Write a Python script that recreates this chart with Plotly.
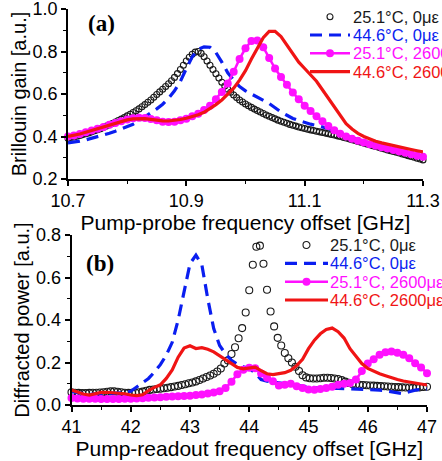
import numpy as np
import plotly.graph_objects as go

W, H = 442, 461

# ---------------- panel (a): Brillouin gain spectra ----------------
a_x_fine = np.round(10.7 + 0.005 * np.arange(121), 4)   # dense sampling (black circles)
a_x = np.round(10.7 + 0.01 * np.arange(61), 3)

a_black = [0.392, 0.395, 0.398, 0.401, 0.405, 0.409, 0.413, 0.417, 0.422, 0.427,
           0.432, 0.437, 0.443, 0.449, 0.455, 0.461, 0.468, 0.475, 0.482, 0.489,
           0.497, 0.505, 0.513, 0.521, 0.530, 0.540, 0.550, 0.561, 0.572, 0.585,
           0.598, 0.610, 0.622, 0.635, 0.648, 0.662, 0.678, 0.696, 0.715, 0.735,
           0.755, 0.773, 0.787, 0.797, 0.800, 0.791, 0.775, 0.755, 0.735, 0.715,
           0.695, 0.675, 0.655, 0.638, 0.622, 0.608, 0.595, 0.583, 0.572, 0.562,
           0.553, 0.545, 0.537, 0.529, 0.522, 0.515, 0.508, 0.501, 0.495, 0.489,
           0.483, 0.477, 0.472, 0.467, 0.462, 0.457, 0.453, 0.449, 0.445, 0.441,
           0.438, 0.434, 0.431, 0.428, 0.425, 0.422, 0.419, 0.416, 0.413, 0.410,
           0.407, 0.403, 0.400, 0.396, 0.393, 0.389, 0.385, 0.381, 0.377, 0.373,
           0.369, 0.365, 0.361, 0.357, 0.353, 0.349, 0.345, 0.341, 0.337, 0.333,
           0.330, 0.326, 0.322, 0.318, 0.314, 0.310, 0.306, 0.302, 0.298, 0.294,
           0.290]

a_blue = [0.370, 0.373, 0.378, 0.384, 0.391, 0.398, 0.406, 0.415, 0.425, 0.435,
          0.446, 0.458, 0.474, 0.492, 0.512, 0.530, 0.552, 0.580, 0.615, 0.660,
          0.720, 0.775, 0.810, 0.822, 0.820, 0.795, 0.750, 0.700, 0.665, 0.635,
          0.615, 0.600, 0.585, 0.570, 0.555, 0.535, 0.515, 0.500, 0.485, 0.475,
          0.465, 0.458, 0.452, 0.446, 0.438, 0.428, 0.418, 0.405, 0.393, 0.382,
          0.372, 0.363, 0.355, 0.347, 0.340, 0.332, 0.325, 0.318, 0.310, 0.303,
          0.296]

a_magenta = [0.400, 0.405, 0.412, 0.420, 0.428, 0.436, 0.445, 0.455, 0.463, 0.472,
             0.480, 0.486, 0.488, 0.487, 0.482, 0.476, 0.470, 0.468, 0.470, 0.476,
             0.484, 0.495, 0.507, 0.525, 0.545, 0.575, 0.610, 0.650, 0.705, 0.765,
             0.815, 0.850, 0.852, 0.820, 0.770, 0.720, 0.680, 0.643, 0.607, 0.575,
             0.545, 0.520, 0.495, 0.472, 0.450, 0.430, 0.413, 0.400, 0.390, 0.380,
             0.372, 0.364, 0.357, 0.350, 0.343, 0.337, 0.330, 0.323, 0.316, 0.310,
             0.305]

a_red = [0.400, 0.405, 0.412, 0.420, 0.428, 0.436, 0.445, 0.455, 0.463, 0.471,
         0.478, 0.483, 0.485, 0.484, 0.481, 0.477, 0.474, 0.473, 0.475, 0.480,
         0.486, 0.493, 0.502, 0.514, 0.530, 0.550, 0.572, 0.597, 0.627, 0.665,
         0.710, 0.765, 0.815, 0.865, 0.895, 0.895, 0.870, 0.830, 0.785, 0.750,
         0.720, 0.690, 0.660, 0.620, 0.580, 0.535, 0.495, 0.460, 0.435, 0.415,
         0.400, 0.388, 0.378, 0.370, 0.363, 0.357, 0.351, 0.345, 0.339, 0.333,
         0.327]

a_xticks = [10.7, 10.9, 11.1, 11.3]
a_yticks = [0.2, 0.4, 0.6, 0.8, 1.0]

# ---------------- panel (b): diffracted power ----------------
b_x_black = np.round(41 + 0.06 * np.arange(101), 3)
b_x = np.round(41 + 0.1 * np.arange(61), 2)

b_black = [0.060, 0.058, 0.057, 0.056, 0.056, 0.057, 0.058, 0.058, 0.059, 0.060,
           0.062, 0.064, 0.064, 0.062, 0.060, 0.058, 0.057, 0.057, 0.058, 0.060,
           0.063, 0.067, 0.071, 0.073, 0.075, 0.077, 0.079, 0.081, 0.084, 0.087,
           0.090, 0.094, 0.098, 0.102, 0.106, 0.111, 0.118, 0.125, 0.132, 0.139,
           0.147, 0.158, 0.172, 0.195, 0.210, 0.240, 0.272, 0.314, 0.362, 0.435,
           0.540, 0.660, 0.745, 0.750, 0.665, 0.542, 0.440, 0.370, 0.316, 0.280,
           0.245, 0.220, 0.200, 0.180, 0.160, 0.140, 0.130, 0.126, 0.125, 0.125,
           0.126, 0.128, 0.128, 0.127, 0.125, 0.122, 0.117, 0.110, 0.104, 0.099,
           0.096, 0.095, 0.094, 0.093, 0.092, 0.091, 0.090, 0.089, 0.088, 0.087,
           0.086, 0.085, 0.084, 0.083, 0.082, 0.082, 0.081, 0.082, 0.083, 0.085,
           0.086]

b_blue = [0.063, 0.058, 0.053, 0.050, 0.052, 0.054, 0.055, 0.056, 0.057, 0.058,
          0.065, 0.085, 0.103, 0.125, 0.155, 0.190, 0.235, 0.295, 0.400, 0.535,
          0.665, 0.705, 0.660, 0.500, 0.360, 0.280, 0.240, 0.210, 0.192, 0.180,
          0.172, 0.150, 0.120, 0.112, 0.108, 0.103, 0.098, 0.095, 0.092, 0.088,
          0.085, 0.082, 0.080, 0.079, 0.078, 0.078, 0.077, 0.077, 0.076, 0.076,
          0.075, 0.072, 0.070, 0.067, 0.062, 0.056, 0.053, 0.062, 0.070, 0.073,
          0.075]

b_magenta = [0.033, 0.031, 0.030, 0.029, 0.029, 0.028, 0.028, 0.028, 0.028, 0.029,
             0.030, 0.031, 0.032, 0.034, 0.035, 0.037, 0.039, 0.040, 0.041, 0.042,
             0.044, 0.047, 0.050, 0.054, 0.059, 0.065, 0.080, 0.110, 0.145, 0.166,
             0.175, 0.173, 0.148, 0.128, 0.112, 0.092, 0.095, 0.100, 0.088, 0.080,
             0.073, 0.072, 0.075, 0.080, 0.086, 0.095, 0.100, 0.103, 0.120, 0.160,
             0.195, 0.215, 0.236, 0.248, 0.252, 0.246, 0.236, 0.220, 0.196, 0.177,
             0.150]

b_red = [0.071, 0.062, 0.052, 0.047, 0.052, 0.059, 0.060, 0.058, 0.055, 0.053,
         0.047, 0.044, 0.048, 0.068, 0.083, 0.095, 0.125, 0.165, 0.225, 0.268,
         0.279, 0.266, 0.270, 0.262, 0.250, 0.232, 0.212, 0.196, 0.177, 0.170,
         0.174, 0.178, 0.162, 0.147, 0.143, 0.146, 0.152, 0.163, 0.185, 0.215,
         0.265, 0.305, 0.335, 0.355, 0.362, 0.345, 0.315, 0.265, 0.228, 0.195,
         0.172, 0.158, 0.147, 0.138, 0.128, 0.120, 0.113, 0.108, 0.104, 0.099,
         0.094]

b_xticks = [41, 42, 43, 44, 45, 46, 47]
b_yticks = [0.0, 0.2, 0.4, 0.6, 0.8]

series_labels = ["25.1°C, 0με", "44.6°C, 0με", "25.1°C, 2600με", "44.6°C, 2600με"]
series_colors = ["#1a1a1a", "#0a1ef0", "#ff10ff", "#f01414"]

FONT = "Liberation Sans, Arial, sans-serif"
BLUE_DASH = "12px,7px"

fig = go.Figure()

def add_panel(xa, ya, xs_black, ys_black, xs, ys_blue, ys_mag, ys_red, circ, dot):
    fig.add_trace(go.Scatter(x=xs_black, y=ys_black, mode="markers", xaxis=xa, yaxis=ya,
                             cliponaxis=False, showlegend=False,
                             marker=dict(symbol="circle-open", size=circ, color=series_colors[0],
                                         line=dict(width=1.1))))
    fig.add_trace(go.Scatter(x=xs, y=ys_blue, mode="lines", xaxis=xa, yaxis=ya, showlegend=False,
                             line=dict(color=series_colors[1], width=3.2, dash=BLUE_DASH)))
    fig.add_trace(go.Scatter(x=xs, y=ys_mag, mode="lines+markers", xaxis=xa, yaxis=ya,
                             cliponaxis=False, showlegend=False,
                             line=dict(color=series_colors[2], width=2.5),
                             marker=dict(size=dot, color=series_colors[2])))
    fig.add_trace(go.Scatter(x=xs, y=ys_red, mode="lines", xaxis=xa, yaxis=ya, showlegend=False,
                             line=dict(color=series_colors[3], width=3.2)))

add_panel("x", "y", a_x_fine, a_black, a_x, a_blue, a_magenta, a_red, 6, 8)
add_panel("x2", "y2", b_x_black, b_black, b_x, b_blue, b_magenta, b_red, 7, 8)

def axis(domain, rng, tickvals, fmt, minor, title, anchor, tsize, standoff):
    return dict(domain=domain, range=rng, anchor=anchor, showline=True, linecolor="black",
                linewidth=1.5, ticks="outside", ticklen=5, tickwidth=1.5, tickcolor="black",
                tickmode="array", tickvals=tickvals,
                ticktext=[format(v, fmt) for v in tickvals],
                ticklabeloverflow="allow",
                showgrid=False, zeroline=False,
                tickfont=dict(family=FONT, size=18, color="black"),
                minor=dict(tick0=rng[0], dtick=minor, ticks="outside", ticklen=3,
                           tickwidth=1.3, tickcolor="black", showgrid=False),
                title=dict(text=title, font=dict(family=FONT, size=tsize, color="black"),
                           standoff=standoff))

def px(xp):
    return xp / W

def py(yp):
    return 1 - yp / H

layout_shapes = []
layout_ann = []

# panel labels
for lab, cx, cy in [("(a)", 101, 23), ("(b)", 100, 263)]:
    layout_ann.append(dict(text="<b>" + lab + "</b>", x=px(cx), y=py(cy), xref="paper",
                           yref="paper", xanchor="center", yanchor="middle", showarrow=False,
                           font=dict(family="Liberation Serif, Times New Roman, serif",
                                     size=23, color="black")))

def legend_block(rows, x0, x1, xtext, circ_r, dot_r):
    xc = (x0 + x1) / 2
    layout_shapes.append(dict(type="circle", xref="paper", yref="paper",
                              x0=px(xc - circ_r), x1=px(xc + circ_r),
                              y0=py(rows[0] + circ_r), y1=py(rows[0] - circ_r),
                              line=dict(color=series_colors[0], width=1.1)))
    layout_shapes.append(dict(type="line", xref="paper", yref="paper",
                              x0=px(x0), x1=px(x1), y0=py(rows[1]), y1=py(rows[1]),
                              line=dict(color=series_colors[1], width=3.2, dash=BLUE_DASH)))
    layout_shapes.append(dict(type="line", xref="paper", yref="paper",
                              x0=px(x0), x1=px(x1), y0=py(rows[2]), y1=py(rows[2]),
                              line=dict(color=series_colors[2], width=2.5)))
    layout_shapes.append(dict(type="circle", xref="paper", yref="paper",
                              x0=px(xc - dot_r), x1=px(xc + dot_r),
                              y0=py(rows[2] + dot_r), y1=py(rows[2] - dot_r),
                              fillcolor=series_colors[2], line=dict(color=series_colors[2], width=0)))
    layout_shapes.append(dict(type="line", xref="paper", yref="paper",
                              x0=px(x0), x1=px(x1), y0=py(rows[3]), y1=py(rows[3]),
                              line=dict(color=series_colors[3], width=3.2)))
    for r, lab, col in zip(rows, series_labels, series_colors):
        layout_ann.append(dict(text=lab, x=px(xtext), y=py(r), xref="paper", yref="paper",
                               xanchor="left", yanchor="middle", showarrow=False,
                               font=dict(family=FONT, size=16.5, color=col)))

legend_block([16.7, 35, 53.3, 71.7], 310, 350, 351, 3, 4)
legend_block([245, 263.3, 281.7, 300], 285, 328, 328, 3.5, 4)

fig.update_layout(
    width=W, height=H, autosize=False,
    margin=dict(l=0, r=0, t=0, b=0, autoexpand=False),
    paper_bgcolor="white", plot_bgcolor="white",
    showlegend=False,
    xaxis=axis([68 / W, 423 / W], [10.7, 11.3], a_xticks, ".1f", 0.1,
               "Pump-probe frequency offset [GHz]", "y", 21, 4),
    yaxis=axis([py(179), py(9)], [0.2, 1.0], a_yticks, ".1f", 0.1,
               "Brillouin gain [a.u.]", "x", 20, 1),
    xaxis2=axis([71.5 / W, 427 / W], [41, 47], b_xticks, "d", 0.5,
                "Pump-readout frequency offset [GHz]", "y2", 21, 0),
    yaxis2=axis([py(405), py(235)], [0.0, 0.8], b_yticks, ".1f", 0.1,
                "Diffracted power [a.u.]", "x2", 20, 1),
    shapes=layout_shapes,
    annotations=layout_ann,
)

fig.write_html("out.html")
